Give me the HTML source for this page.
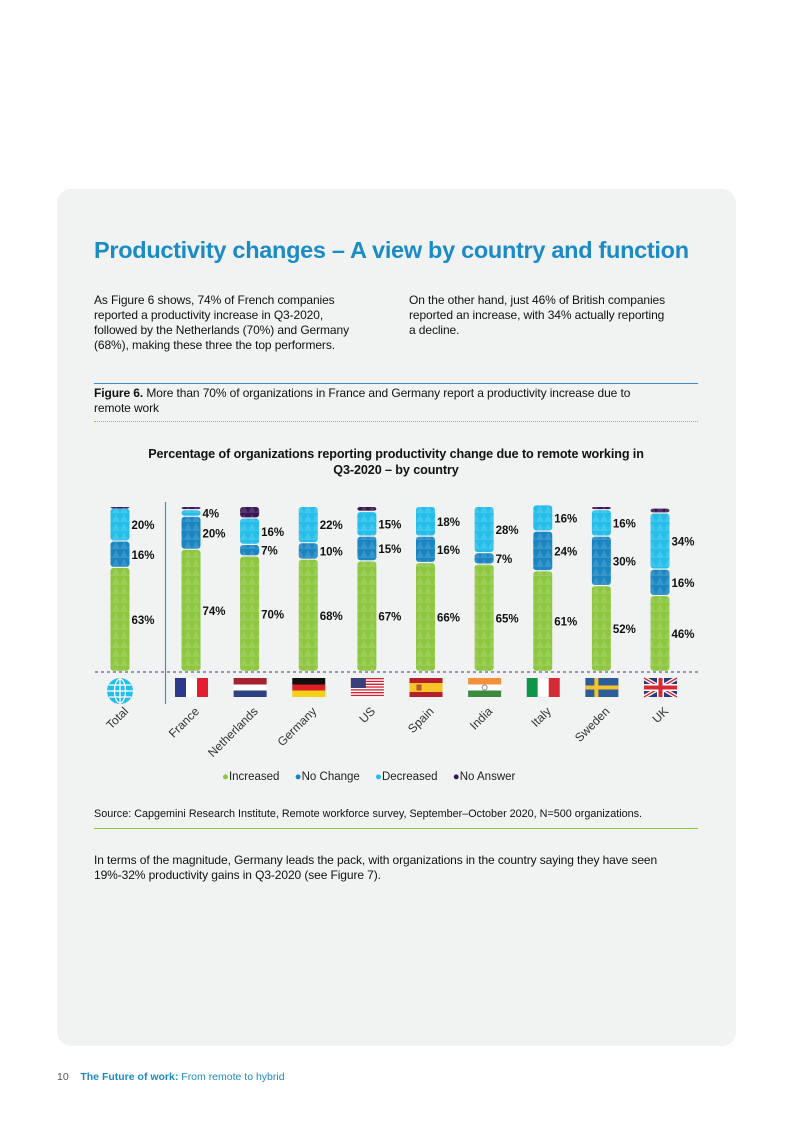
<!DOCTYPE html>
<html><head><meta charset="utf-8">
<style>
body{margin:0;width:793px;height:1122px;background:#fff;font-family:"Liberation Sans",sans-serif;position:relative;overflow:hidden;color:#111}
.card{position:absolute;left:57px;top:189px;width:679px;height:857px;background:#f1f2f2;border-radius:14px}
.abs{position:absolute}
.p{font-size:12px;line-height:15px;letter-spacing:-0.1px;white-space:nowrap}
</style></head><body>
<div class="card"></div>
<div class="abs" style="left:94px;top:237px;font-size:23.5px;font-weight:bold;color:#1b8bc6;letter-spacing:-0.3px">Productivity changes – A view by country and function</div>
<div class="abs p" style="left:94px;top:293px">As Figure 6 shows, 74% of French companies<br>reported a productivity increase in Q3-2020,<br>followed by the Netherlands (70%) and Germany<br>(68%), making these three the top performers.</div>
<div class="abs p" style="left:409px;top:293px">On the other hand, just 46% of British companies<br>reported an increase, with 34% actually reporting<br>a decline.</div>
<div class="abs" style="left:94px;top:383px;width:604px;height:1px;background:#3a8ec4"></div>
<div class="abs p" style="left:94px;top:386px"><b>Figure 6.</b> More than 70% of organizations in France and Germany report a productivity increase due to<br>remote work</div>
<div class="abs" style="left:94px;top:421px;width:604px;border-top:1.5px dotted #8dc63f"></div>
<div class="abs" style="left:94px;top:446px;width:604px;text-align:center;font-weight:bold;font-size:12.6px;line-height:16px;letter-spacing:-0.1px">Percentage of organizations reporting productivity change due to remote working in<br>Q3-2020 – by country</div>
<svg class="abs" style="left:0;top:0" width="793" height="1122" id="chart">
<defs>
<pattern id="tri" width="8" height="9" patternUnits="userSpaceOnUse"><path d="M0 9 L4 1 L8 9Z" fill="rgba(255,255,255,0.13)"/></pattern>
</defs>
</svg>
<div class="abs" style="left:222px;top:771px;font-size:11.5px;color:#222">
<span><span style="color:#8dc63f">●</span>Increased</span>
<span style="margin-left:12px"><span style="color:#1a85c0">●</span>No Change</span>
<span style="margin-left:12px"><span style="color:#25bde9">●</span>Decreased</span>
<span style="margin-left:12px"><span style="color:#3a1754">●</span>No Answer</span>
</div>
<div class="abs" style="left:94px;top:808px;font-size:10.8px;white-space:nowrap">Source: Capgemini Research Institute, Remote workforce survey, September–October 2020, N=500 organizations.</div>
<div class="abs" style="left:94px;top:828px;width:604px;height:1px;background:#8dc63f"></div>
<div class="abs p" style="left:94px;top:853px">In terms of the magnitude, Germany leads the pack, with organizations in the country saying they have seen<br>19%-32% productivity gains in Q3-2020 (see Figure 7).</div>
<div class="abs" style="left:57px;top:1071px;font-size:10.5px;color:#555">10&nbsp;&nbsp;&nbsp;&nbsp;<span style="color:#1b8bc6"><b>The Future of work:</b> From remote to hybrid</span></div>
<script>
const categories=["Total","France","Netherlands","Germany","US","Spain","India","Italy","Sweden","UK"];
const increased=[63,74,70,68,67,66,65,61,52,46];
const noChange=[16,20,7,10,15,16,7,24,30,16];
const decreased=[20,4,16,22,15,18,28,16,16,34];
const noAnswer=[1,2,7,0,3,0,0,0,2,3];
const svg=document.getElementById('chart');
const NS='http://www.w3.org/2000/svg';
const baseY=672, pxPer=1.65, x0=120, x1=191, step=(660-191)/8, bw=19;
function xPos(i){return i===0?x0:x1+(i-1)*step;}
function yPos(v){return baseY-v*pxPer;}
function mk(t,a){const e=document.createElementNS(NS,t);for(const k in a)e.setAttribute(k,a[k]);svg.appendChild(e);return e;}
const series=[[increased,'#8dc63f','increased'],[noChange,'#1a85c0','no-change'],[decreased,'#25bde9','decreased'],[noAnswer,'#3a1754','no-answer']];
categories.forEach((c,i)=>{
  let cum=0;const cx=xPos(i);
  series.forEach(([arr,col,nm],si)=>{
    const v=arr[i];if(v<=0)return;
    const yTop=yPos(cum+v), yBot=yPos(cum);
    const h=Math.max(yBot-yTop-1.2,1.5);
    const r=mk('rect',{x:cx-bw/2,y:yTop,width:bw,height:h,rx:3,fill:col});
    
    
    const p=mk('rect',{x:cx-bw/2,y:yTop,width:bw,height:h,rx:3,fill:'url(#tri)'});
    
    
    if(si<3){
      const t=mk('text',{x:cx+bw/2+2,y:(yTop+yBot)/2+4,'font-size':'11.5','font-weight':'bold',fill:'#111'});
      t.textContent=v+'%';
      
      
    }
    cum+=v;
  });
  const lx=cx+9, ly=712;
  const lb=mk('text',{x:lx,y:ly,'font-size':'12',fill:'#333','text-anchor':'end',transform:`rotate(-45 ${lx} ${ly})`});
  lb.textContent=c;
  
  
});
const bl=mk('line',{x1:95,y1:672,x2:698,y2:672,stroke:'#6a5a9a','stroke-dasharray':'3,3','stroke-width':1.2});


const dv=mk('line',{x1:165.5,y1:502,x2:165.5,y2:704,stroke:'#3f8fc0','stroke-width':1.2});


function flag(i,draw){const g=document.createElementNS(NS,'g');g.setAttribute('transform',`translate(${xPos(i)-16},678)`);svg.appendChild(g);draw(g);

}
function r(g,x,y,w,h,f){const e=document.createElementNS(NS,'rect');e.setAttribute('x',x);e.setAttribute('y',y);e.setAttribute('width',w);e.setAttribute('height',h);e.setAttribute('fill',f);g.appendChild(e);}
const gl=mk('g',{transform:`translate(${xPos(0)},691)`});


gl.innerHTML='<circle r="13" fill="#25bde9"/><ellipse rx="5.5" ry="12" fill="none" stroke="#fff" stroke-width="1.3"/><line x1="-13" y1="0" x2="13" y2="0" stroke="#fff" stroke-width="1.3"/><line x1="0" y1="-13" x2="0" y2="13" stroke="#fff" stroke-width="1.3"/><line x1="-11" y1="-6" x2="11" y2="-6" stroke="#fff" stroke-width="1.2"/><line x1="-11" y1="6" x2="11" y2="6" stroke="#fff" stroke-width="1.2"/>';
flag(1,g=>{r(g,0,0,11,19,'#2b3a8c');r(g,11,0,11,19,'#fff');r(g,22,0,11,19,'#e0202f');});
flag(2,g=>{r(g,0,0,33,6.5,'#a52231');r(g,0,6.5,33,6,'#fff');r(g,0,12.5,33,6.5,'#2c4283');});
flag(3,g=>{r(g,0,0,33,6.5,'#111');r(g,0,6.5,33,6,'#dd1f26');r(g,0,12.5,33,6.5,'#f4d019');});
flag(4,g=>{for(let k=0;k<7;k++){r(g,0,k*2.8,33,1.4,'#d42030');r(g,0,k*2.8+1.4,33,1.4,'#fff');}r(g,0,0,15,10,'#3a3f7a');});
flag(5,g=>{r(g,0,0,33,19,'#b61f2a');r(g,0,5,33,9,'#f6c427');r(g,7,6.5,5,6,'#b8552a');});
flag(6,g=>{r(g,0,0,33,6.5,'#f3913b');r(g,0,6.5,33,6,'#fff');r(g,0,12.5,33,6.5,'#3c8a3e');const c=document.createElementNS(NS,'circle');c.setAttribute('cx',16.5);c.setAttribute('cy',9.5);c.setAttribute('r',2.5);c.setAttribute('fill','none');c.setAttribute('stroke','#8a8ab0');g.appendChild(c);});
flag(7,g=>{r(g,0,0,11,19,'#119448');r(g,11,0,11,19,'#fff');r(g,22,0,11,19,'#d42a35');});
flag(8,g=>{r(g,0,0,33,19,'#2c5d9a');r(g,9,0,4,19,'#f6c32a');r(g,0,7.5,33,4,'#f6c32a');});
flag(9,g=>{g.innerHTML='<rect width="33" height="19" fill="#2b3a7a"/><path d="M0 0L33 19M33 0L0 19" stroke="#fff" stroke-width="4"/><path d="M0 0L33 19M33 0L0 19" stroke="#d42a35" stroke-width="1.5"/><rect x="13" y="0" width="7" height="19" fill="#fff"/><rect x="0" y="6" width="33" height="7" fill="#fff"/><rect x="14.5" y="0" width="4" height="19" fill="#d42a35"/><rect x="0" y="7.5" width="33" height="4" fill="#d42a35"/>';});
</script>
</body></html>
